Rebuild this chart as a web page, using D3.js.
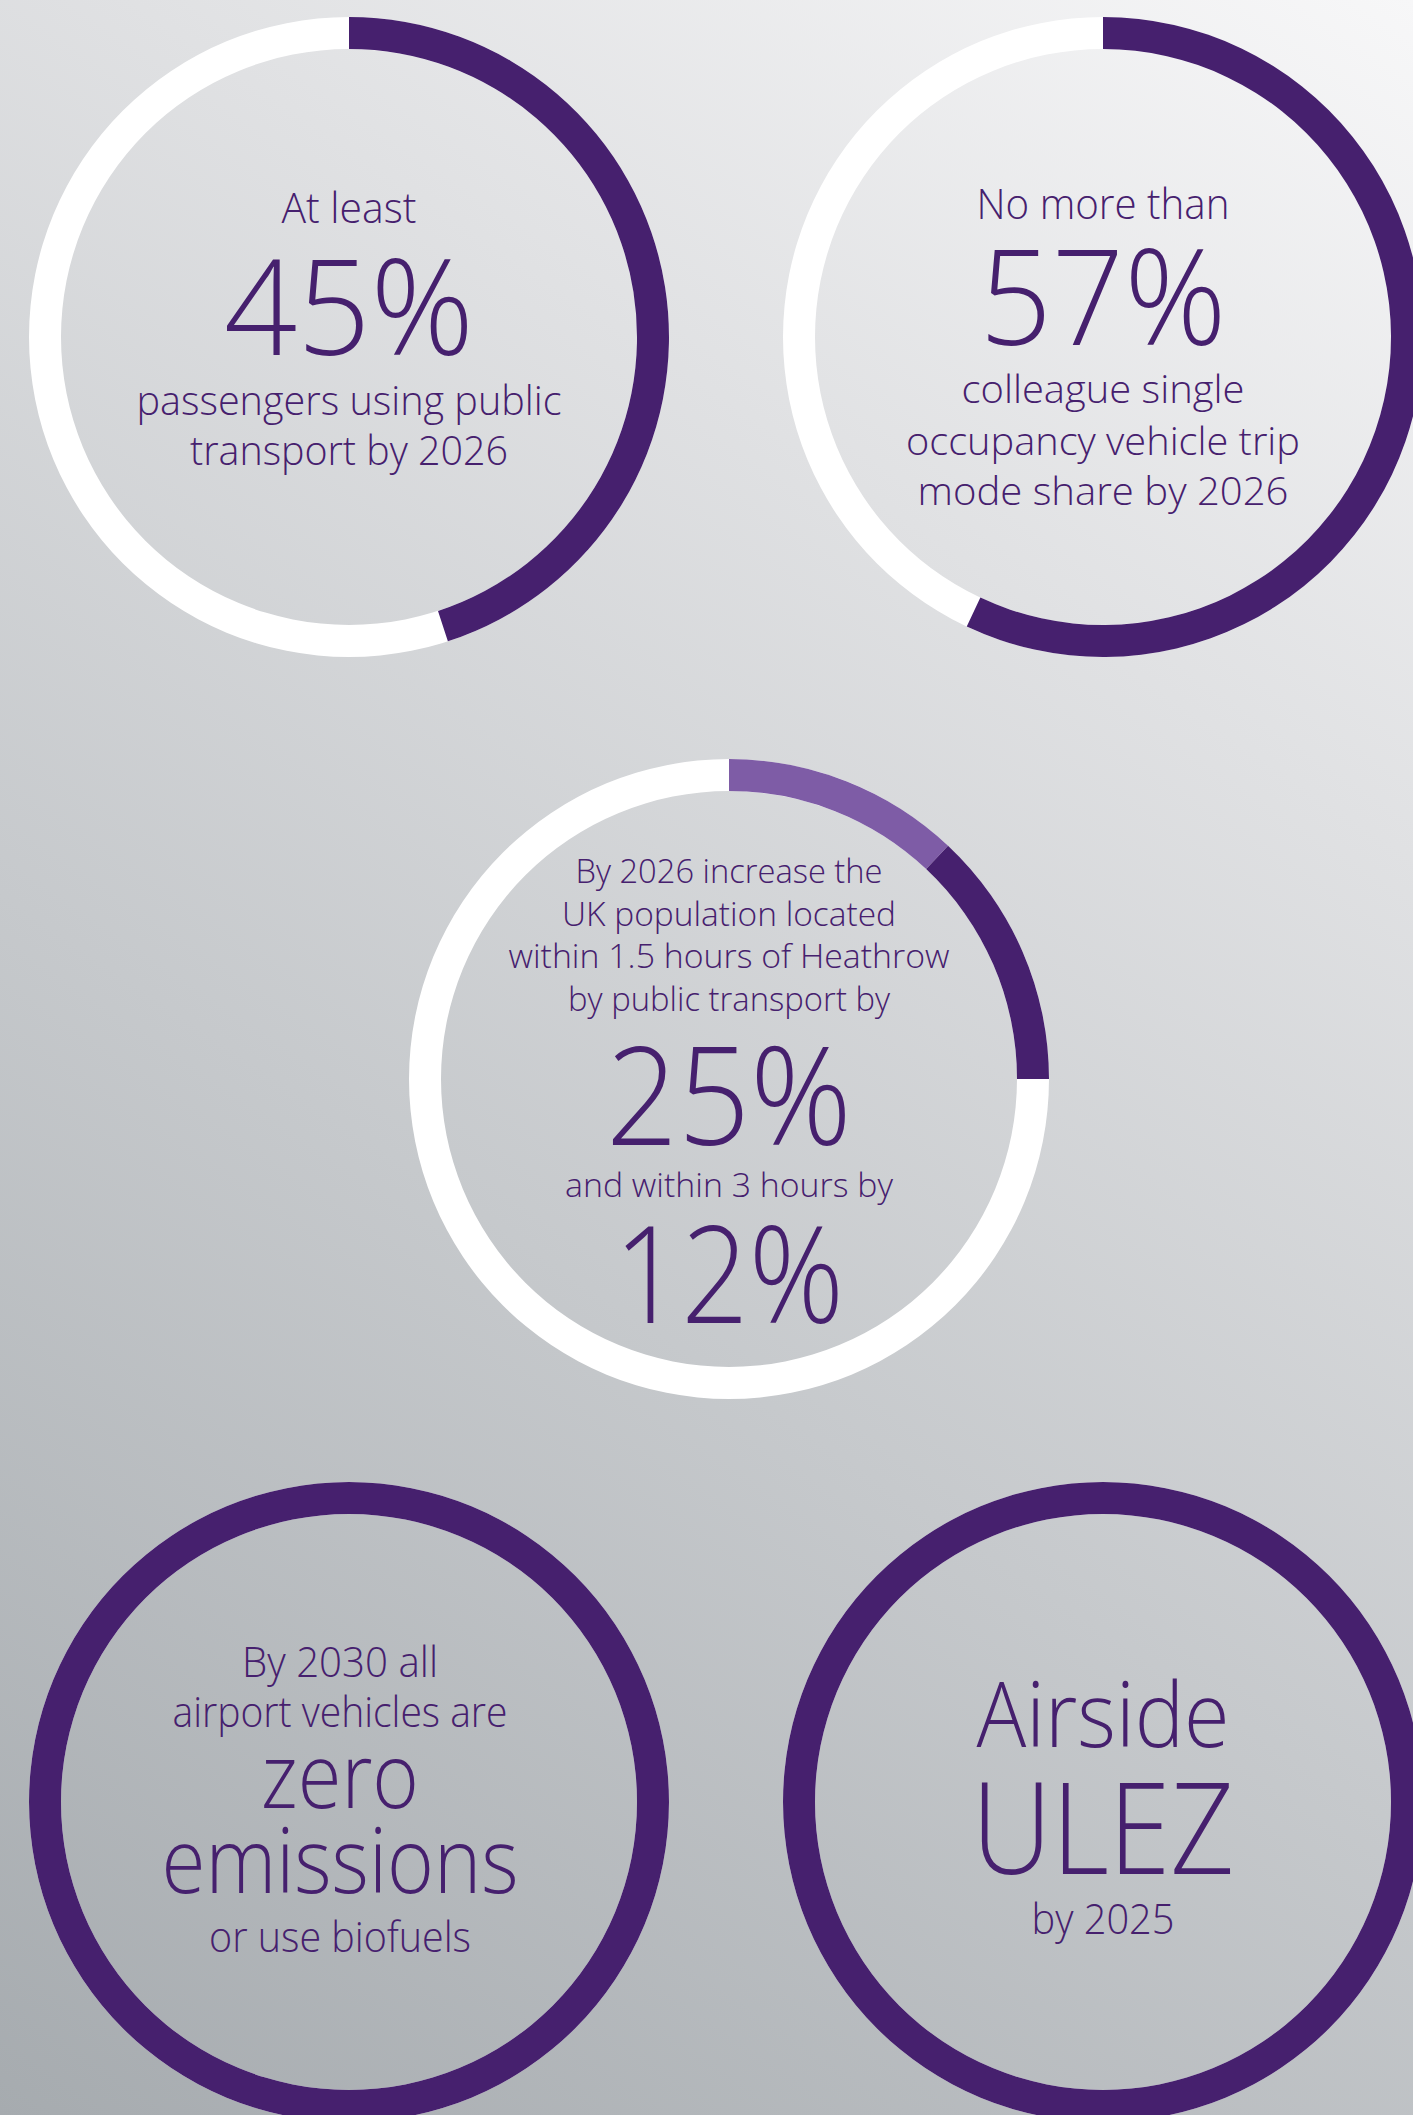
<!DOCTYPE html>
<html>
<head>
<meta charset="utf-8">
<script src="https://cdn.jsdelivr.net/npm/d3@7"></script>
<style>
  body { margin: 0; }
  svg { display: block; }
  .ring_text { font-family: 'Open Sans', 'Noto Sans', sans-serif; font-weight: 300; fill: #46206e; text-anchor: middle; }
</style>
</head>
<body>
<div class="rings_container"></div>
<script>
// Targets (cumulative % around each ring)
const passengerStops = [45]
const colleagueStops = [57]
const populationStops = [12, 25]
const vehicleStops = [100]
const ulezStops = [100]

// Text inside each ring
const passengerLines = ['At least', '45%', 'passengers using public', 'transport by 2026']
const colleagueLines = ['No more than', '57%', 'colleague single', 'occupancy vehicle trip', 'mode share by 2026']
const populationLines = ['By 2026 increase the', 'UK population located', 'within 1.5 hours of Heathrow',
    'by public transport by', '25%', 'and within 3 hours by', '12%']
const vehicleLines = ['By 2030 all', 'airport vehicles are', 'zero', 'emissions', 'or use biofuels']
const ulezLines = ['Airside', 'ULEZ', 'by 2025']

// layout: ring centre, text centre, and [baseline, font size, width] per line
const rings = [
    { stops: passengerStops, lines: passengerLines, cx: 349, cy: 337, tx: 349,
      fmt: [[223, 43, 135], [355, 132, 250], [415, 40, 425], [465, 40, 318]] },
    { stops: colleagueStops, lines: colleagueLines, cx: 1103, cy: 337, tx: 1103,
      fmt: [[219, 42, 253], [345, 132, 247], [403, 39, 283], [455, 39, 394], [505, 39, 371]] },
    { stops: populationStops, lines: populationLines, cx: 729, cy: 1079, tx: 729,
      fmt: [[883, 33, 307], [926, 33, 334], [968, 33, 441], [1011, 33, 322], [1145, 136, 246],
            [1197, 33, 328], [1323, 134, 230]] },
    { stops: vehicleStops, lines: vehicleLines, cx: 349, cy: 1802, tx: 340,
      fmt: [[1677, 42, 196], [1727, 42, 335], [1808, 90, 158], [1893, 90, 357], [1952, 42, 262]] },
    { stops: ulezStops, lines: ulezLines, cx: 1103, cy: 1802, tx: 1103,
      fmt: [[1747, 90, 253], [1874, 128, 263], [1934, 43, 143]] }
]

function setupCanvas() {
    const svg_width = 1413
    const svg_height = 2115
    const outer_r = 320
    const ring_w = 32

    const svg = d3.select('.rings_container').append('svg')
        .attr('width', svg_width).attr('height', svg_height)

    // background gradient, light top right -> grey bottom left
    const grad = svg.append('defs').append('linearGradient')
        .attr('id', 'bg').attr('gradientUnits', 'userSpaceOnUse')
        .attr('x1', 0).attr('y1', svg_height).attr('x2', svg_width).attr('y2', 0)
    grad.append('stop').attr('offset', 0).attr('stop-color', '#a6abaf')
    grad.append('stop').attr('offset', 0.4).attr('stop-color', '#c6c9cc')
    grad.append('stop').attr('offset', 0.72).attr('stop-color', '#e0e1e3')
    grad.append('stop').attr('offset', 1).attr('stop-color', '#f7f7f8')

    svg.append('rect').attr('width', svg_width).attr('height', svg_height).attr('fill', 'url(#bg)')

    // percent -> angle, starting at 12 o'clock
    const angle = d3.scaleLinear().domain([0, 100]).range([0, 2 * Math.PI])
    const arc = d3.arc().innerRadius(outer_r - ring_w).outerRadius(outer_r)

    rings.forEach(ring => {
        const g = svg.append('g').attr('transform', `translate(${ring.cx},${ring.cy})`)

        // white track
        g.append('path')
            .attr('d', arc({ startAngle: 0, endAngle: angle(100) }))
            .attr('fill', '#ffffff')

        // purple segments
        const segs = ring.stops.map((v, i) => ({ from: i ? ring.stops[i - 1] : 0, to: v, i }))
        g.selectAll('.seg').data(segs)
            .enter()
            .append('path')
            .attr('class', 'seg')
            .attr('d', d => arc({ startAngle: angle(d.from), endAngle: angle(d.to) }))
            .attr('fill', d => (ring.stops.length > 1 && d.i === 0) ? '#7e5ca6' : '#46206e')

        // text lines
        svg.selectAll(null).data(ring.lines)
            .enter()
            .append('text')
            .attr('class', 'ring_text')
            .attr('x', ring.tx)
            .attr('y', (d, i) => ring.fmt[i][0])
            .style('font-size', (d, i) => ring.fmt[i][1] + 'px')
            .attr('textLength', (d, i) => ring.fmt[i][2])
            .attr('lengthAdjust', 'spacingAndGlyphs')
            .text(d => d)
    })
}

setupCanvas()
</script>
</body>
</html>
